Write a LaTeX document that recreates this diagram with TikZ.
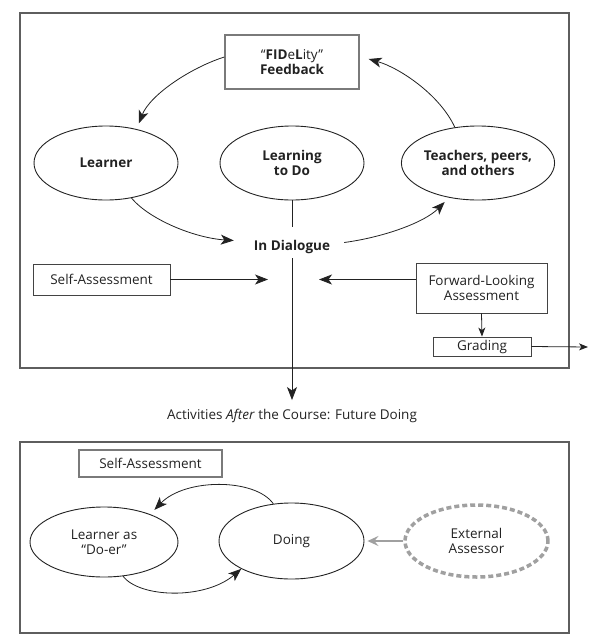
\documentclass[tikz,border=0pt]{standalone}
\usepackage{fontspec}
\setmainfont{Open Sans}
\usetikzlibrary{shapes.geometric,arrows.meta}
\newcommand\dfsz{\fontsize{13.5}{15.5}\selectfont}
\definecolor{framec}{HTML}{5E5E5E}
\definecolor{boxg}{HTML}{7A7A7A}
\definecolor{lightg}{HTML}{A0A0A0}
\definecolor{ink}{HTML}{222222}
\begin{document}
\begin{tikzpicture}[x=1pt,y=-1pt,
  every node/.style={font=\dfsz, align=center, inner sep=0pt, text=ink},
  frame/.style={draw=framec, line width=2pt},
  ell/.style={ellipse, draw=ink, line width=0.9pt, minimum width=144pt, minimum height=74pt},
  gbox/.style={draw=boxg, line width=1.4pt},
  bbox/.style={draw=ink!85, line width=0.9pt},
  bold/.style={font=\dfsz\bfseries},
  arr/.style={draw=ink, line width=0.8pt, -{Stealth[length=13pt,width=10pt,inset=3.5pt]}},
  sarr/.style={draw=ink, line width=0.8pt, -{Stealth[length=9pt,width=7pt,inset=2.5pt]}},
  garr/.style={draw=lightg, line width=2pt, -{Stealth[length=11pt,width=10pt,inset=4pt]}},
  plain/.style={draw=ink, line width=0.8pt}
]
\useasboundingbox (0,0) rectangle (590,643);

% ---------- upper panel ----------
\draw[frame] (20,13) rectangle (569,368);

\node[gbox, minimum width=134pt, minimum height=54pt] (fid) at (292,62)
  {“\textbf{FID}e\textbf{L}ity”\\\textbf{Feedback}};
\node[ell, bold] (learner) at (106,163) {Learner};
\node[ell, bold] (learn) at (292,163) {Learning\\to Do};
\node[ell, bold] (teach) at (478,163) {Teachers, peers,\\and others};
\node[bold] (dia) at (292,246.5) {In Dialogue};

\node[bbox, minimum width=137pt, minimum height=31pt] (sa) at (101.5,279.5) {Self-Assessment};
\node[bbox, minimum width=131pt, minimum height=50pt] (fla) at (481.5,288) {Forward-Looking\\Assessment};
\node[bbox, minimum width=98pt, minimum height=19pt] (grade) at (482,346.5) {Grading};
\node (act) at (292,416) {Activities \textit{After} the Course: Future Doing};

\coordinate (vtop) at (292,227);
\coordinate (vbot) at (292,258);
\coordinate (sain) at (268,279.5);
\coordinate (flain) at (319,279.5);
\coordinate (gradeout) at (588,347);

\draw[arr, shorten >=6pt] ([yshift=5pt]fid.west) .. controls (190,68) and (150,95) .. (learner.48);
\draw[arr] (teach.123) .. controls (440,95) and (400,68) .. ([xshift=9pt,yshift=3pt]fid.east);
\draw[arr] (learner.-54) .. controls (150,220) and (195,238) .. ([xshift=-20pt,yshift=6pt]dia.west);
\draw[arr, shorten >=6pt] ([xshift=14pt,yshift=4pt]dia.east) .. controls (385,237) and (425,222) .. (teach.-130);
\draw[plain] (learn.south) -- (vtop);
\draw[arr, shorten >=9pt] (vbot) -- (act.north);
\draw[arr] (sa.east) -- (sain);
\draw[arr] (fla.west |- sa.east) -- (flain);
\draw[sarr] (fla.south) -- (grade.north);
\draw[sarr] (grade.east) -- (gradeout);

% ---------- lower panel ----------
\draw[frame] (20,442) rectangle (569,633);

\node[gbox, minimum width=143pt, minimum height=27pt] (sa2) at (150.5,463.5) {Self-Assessment};
\node[ell, minimum width=148pt, minimum height=70pt] (ldo) at (104,542) {Learner as\\“Do-er”};
\node[ell, minimum width=145pt, minimum height=76pt] (doing) at (291.5,541) {Doing};
\node[ellipse, draw=lightg, dash pattern=on 5pt off 3pt, line width=3.5pt,
      minimum width=143pt, minimum height=72pt] (ext) at (476.5,541) {External\\Assessor};

\draw[garr, shorten >=3pt] (ext.west) -- (doing.east);
\draw[arr, shorten >=6pt] (doing.116) .. controls (255,478) and (185,478) .. (ldo.31);
\draw[arr] (ldo.-61) .. controls (140,598) and (205,600) .. (doing.-151);
\end{tikzpicture}
\end{document}
